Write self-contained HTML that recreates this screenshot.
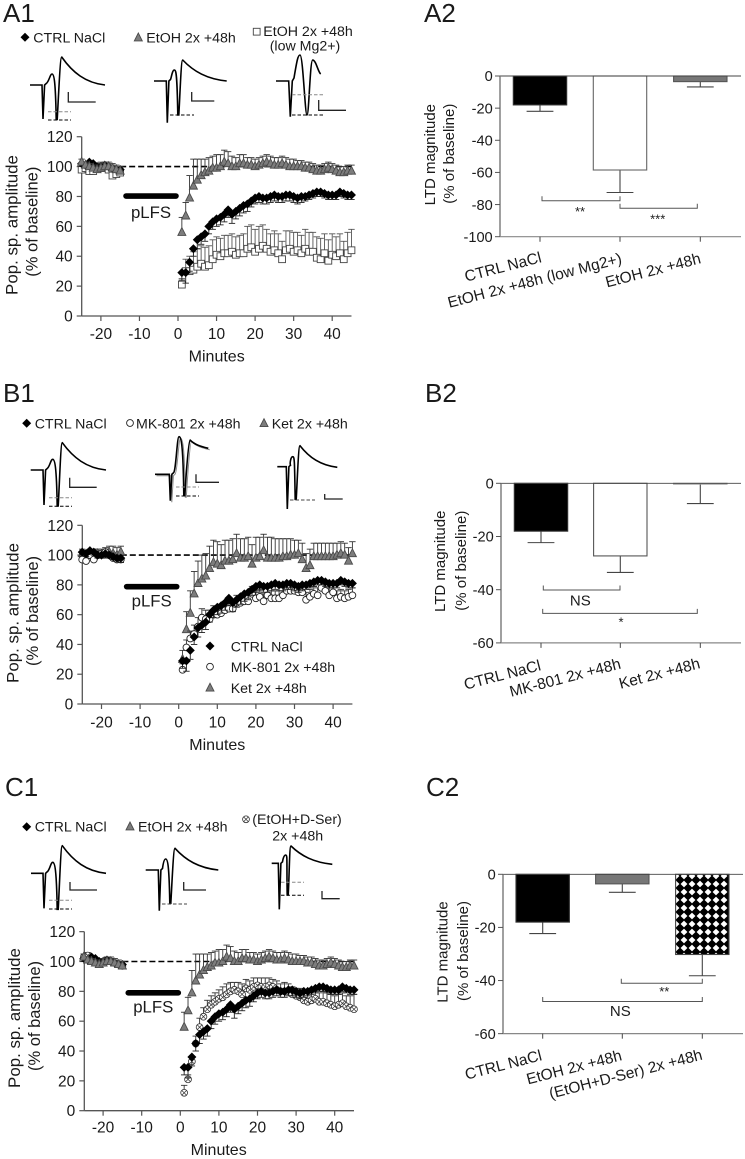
<!DOCTYPE html>
<html lang="en">
<head>
<meta charset="utf-8">
<title>LTD magnitude figure</title>
<style>
html,body{margin:0;padding:0;background:#fff}
svg{display:block;filter:blur(0.35px)}
text{font-family:"Liberation Sans",Arial,sans-serif;fill:#1a1a1a}
</style>
</head>
<body>
<svg id="fig" xmlns="http://www.w3.org/2000/svg" width="745" height="1159" viewBox="0 0 745 1159">
<defs>
<pattern id="hatch" patternUnits="userSpaceOnUse" width="8" height="8" x="0" y="0">
<rect width="8" height="8" fill="#000"/>
<polygon points="4,0.6 7.4,4 4,7.4 0.6,4" fill="#fff"/>
</pattern>
</defs>
<rect width="745" height="1159" fill="#fff"/>
<text x="3" y="22" font-size="26">A1</text>
<text x="424" y="22" font-size="26">A2</text>
<text x="3" y="402" font-size="26">B1</text>
<text x="425" y="402" font-size="26">B2</text>
<text x="5" y="796" font-size="26">C1</text>
<text x="426" y="796" font-size="26">C2</text>
</svg>
<script>
// ---- time-course data (minutes, % of baseline) ----
const baselineMinutes=[-25,-24,-23,-22,-21,-20,-19,-18,-17,-16,-15];
const postMinutes=[1,2,3,4,5,6,7,8,9,10,11,12,13,14,15,16,17,18,19,20,21,22,23,24,25,26,27,28,29,30,31,32,33,34,35,36,37,38,39,40,41,42,43,44,45];

const ctrlBase=[102,101,103,102,100,100,101,100,99,98,98];
const ctrlBaseErr=[2,2,2,2,2,2,2,2,2,2,3];
const ctrlPost=[29,29,36,45,51,53,55,60,63,65,66,68,71,68,70,72,74,75,77,79,80,79,79,80,81,80,80,81,81,80,79,80,80,81,82,83,83,82,81,81,81,83,82,81,81];
const ctrlPostErr=[5,7,6,5,6,5,5,5,5,5,5,5,5,6,5,5,5,5,4,4,4,4,4,4,4,4,4,4,4,4,4,4,3,3,3,3,3,3,3,3,3,3,3,3,3];

const etohBase=[103,101,100,99,98,99,100,100,99,98,97];
const etohBaseErr=[2,2,2,2,3,3,3,3,3,3,3];
const etohPost=[56,67,79,87,91,94,96,97,99,99,100,103,102,100,100,102,102,101,101,100,101,102,103,102,101,101,102,101,100,100,100,100,99,99,98,97,97,98,99,98,97,96,96,97,97];
const etohPostErr=[10,9,15,18,14,11,9,9,8,9,8,8,8,7,6,6,6,5,5,5,5,5,5,5,5,5,5,5,5,5,4,4,4,4,4,4,4,4,4,4,4,4,4,4,4];

const lowMgBase=[98,99,97,97,99,100,99,98,94,95,96];
const lowMgBaseErr=[3,3,2,3,3,3,3,3,3,3,3];
const lowMgPost=[21,30,30,31,33,35,33,34,38,41,40,42,42,43,41,42,42,45,46,43,45,47,45,43,44,42,38,44,45,43,44,42,45,43,43,39,38,42,37,41,40,42,38,42,44];
const lowMgPostErr=[4,8,10,12,12,12,13,13,13,12,12,12,12,12,12,12,13,15,15,15,15,14,13,12,13,13,12,13,12,13,12,12,13,13,13,14,14,13,14,14,13,13,12,14,14];

const mkBase=[97,96,100,97,100,101,102,100,98,97,97];
const mkBaseErr=[2,2,2,2,2,2,2,2,2,2,3];
const mkPost=[23,38,44,47,52,58,57,57,60,60,61,63,64,64,68,68,69,69,74,71,72,69,73,71,71,71,73,76,76,76,75,75,70,72,74,73,78,76,73,75,71,72,71,72,73];
const mkPostErr=[4,5,5,6,6,6,6,6,6,6,6,6,5,5,5,5,5,5,5,5,5,5,5,5,5,5,5,5,5,5,5,5,5,5,5,5,5,5,5,5,5,5,5,5,5];

const ketBase=[101,100,101,101,101,100,101,102,101,100,102];
const ketBaseErr=[3,3,3,3,3,4,4,4,5,5,4];
const ketPost=[30,50,61,74,81,84,86,91,95,94,93,96,96,97,101,98,98,99,94,98,99,103,98,98,98,98,99,99,100,100,101,97,91,93,99,99,99,99,99,99,100,101,100,96,101];
const ketPostErr=[6,12,15,15,15,16,15,15,15,15,14,14,14,14,13,13,13,13,13,14,13,11,14,14,13,13,12,12,11,10,9,11,10,11,9,9,9,9,9,9,8,8,8,9,8];

const dserBase=[103,104,101,100,99,100,101,100,99,98,97];
const dserBaseErr=[2,2,2,2,2,2,2,2,2,2,3];
const dserPost=[12,21,33,45,56,63,68,71,73,75,76,78,80,81,80,78,82,81,83,84,83,83,84,83,81,80,80,80,78,77,76,74,73,74,75,73,73,72,71,70,71,72,70,69,68];
const dserPostErr=[5,3,3,5,6,6,6,6,6,6,7,7,6,5,6,7,6,6,6,5,6,6,5,5,6,5,6,5,5,5,6,6,6,6,6,6,7,7,7,7,7,7,7,8,10];

const lineTicksY=[0,20,40,60,80,100,120];
const lineTicksX=[-20,-10,0,10,20,30,40];

// ---- bar chart data (LTD magnitude, % of baseline) ----
const a2Labels=["CTRL NaCl","EtOH 2x +48h (low Mg2+)","EtOH 2x +48h"];
const a2Means=[-18,-58.5,-3.5];
const a2Sems=[4,14,3.3];
const a2Ticks=[0,-20,-40,-60,-80,-100];

const b2Labels=["CTRL NaCl","MK-801 2x +48h","Ket 2x +48h"];
const b2Means=[-18,-27.3,-0.3];
const b2Sems=[4.3,6.2,7.3];
const b2Ticks=[0,-20,-40,-60];

const c2Labels=["CTRL NaCl","EtOH 2x +48h","(EtOH+D-Ser) 2x +48h"];
const c2Means=[-18,-3.6,-30.2];
const c2Sems=[4.3,3.2,8];
const c2Ticks=[0,-20,-40,-60];

const svg=document.getElementById('fig');
const NS='http://www.w3.org/2000/svg';
function mk(tag,attrs,parent){
  const e=document.createElementNS(NS,tag);
  for(const k in attrs)e.setAttribute(k,attrs[k]);
  (parent||svg).appendChild(e);
  return e;
}
function label(str,x,y,size,extra,parent,name){
  const t=mk('text',Object.assign({x:x,y:y,'font-size':size},extra||{}),parent);
  t.textContent=str;
  
  
  return t;
}
function line(x1,y1,x2,y2,stroke,w,parent,name,dash){
  const l=mk('line',{x1:x1,y1:y1,x2:x2,y2:y2,stroke:stroke,'stroke-width':w},parent);
  if(dash)l.setAttribute('stroke-dasharray',dash);
  
  
  return l;
}
function marker(kind,x,y,parent,name){
  const g=mk('g',{},parent);
  
  
  if(kind==='diamond'){
    mk('polygon',{points:`${x},${y-4.5} ${x+4.5},${y} ${x},${y+4.5} ${x-4.5},${y}`,fill:'#000'},g);
  }else if(kind==='triangle'){
    mk('polygon',{points:`${x},${y-4.8} ${x+4},${y+3.1} ${x-4},${y+3.1}`,fill:'#7d7d7d',stroke:'#4a4a4a','stroke-width':0.9},g);
  }else if(kind==='square'){
    mk('rect',{x:x-3.4,y:y-3.4,width:6.8,height:6.8,fill:'#fff',stroke:'#444','stroke-width':0.9},g);
  }else if(kind==='circle'){
    mk('circle',{cx:x,cy:y,r:3.4,fill:'#fff',stroke:'#222','stroke-width':0.9},g);
  }else{
    mk('circle',{cx:x,cy:y,r:3.4,fill:'#fff',stroke:'#333','stroke-width':0.8},g);
    mk('path',{d:`M${x-2.3},${y-2.3}L${x+2.3},${y+2.3}M${x+2.3},${y-2.3}L${x-2.3},${y+2.3}`,stroke:'#333','stroke-width':0.7},g);
  }
  return g;
}

function lineChart(cfg){
  const root=mk('g',{});
  
  
  const X=v=>cfg.x0+v*cfg.kx;
  const Y=v=>cfg.y0-v*cfg.ky;
  const yTop=Y(120);
  line(cfg.axisX,cfg.y0,cfg.axisX,yTop,'#555',1.3,root,'y-axis');
  line(cfg.axisX,cfg.y0,X(45),cfg.y0,'#555',1.3,root,'x-axis');
  lineTicksY.forEach(v=>{
    line(cfg.axisX-5,Y(v),cfg.axisX,Y(v),'#555',1.2,root,'y-tick');
    label(String(v),cfg.axisX-9,Y(v)+5.5,15.5,{'text-anchor':'end'},root,'y-tick-label');
  });
  lineTicksX.forEach(v=>{
    line(X(v),cfg.y0,X(v),cfg.y0+5,'#555',1.2,root,'x-tick');
    label(String(v),X(v),cfg.xLabelY,15.5,{'text-anchor':'middle'},root,'x-tick-label');
  });
  label('Minutes',cfg.titleX,cfg.titleY,16,{'text-anchor':'middle'},root,'x-axis-title');
  const yt=[cfg.yTitle1,cfg.yTitle2];
  label('Pop. sp. amplitude',yt[0][0],yt[0][1],16.9,{'text-anchor':'middle',transform:`rotate(-90 ${yt[0][0]} ${yt[0][1]})`},root,'y-axis-title');
  label('(% of baseline)',yt[1][0],yt[1][1],16.5,{'text-anchor':'middle',transform:`rotate(-90 ${yt[1][0]} ${yt[1][1]})`},root,'y-axis-subtitle');
  line(X(-15),Y(100),X(45),Y(100),'#000',1.6,root,'baseline-100-line','6,3');
  const bar=mk('line',{x1:X(-14)+2,x2:X(0)-2,y1:Y(cfg.barV),y2:Y(cfg.barV),stroke:'#000','stroke-width':5.6,'stroke-linecap':'round'},root);
  
  
  label('pLFS',X(-7),cfg.plfsY,16.8,{'text-anchor':'middle'},root,'plfs-label');
  cfg.series.forEach(s=>{
    const g=mk('g',{},root);
    
    
    const draw=(ts,vals,errs)=>ts.forEach((t,i)=>{
      const x=X(t),y1=Y(vals[i]),y2=Y(vals[i]+s.dir*errs[i]);
      line(x,y1,x,y2,s.err,0.9,g,'error-bar-'+s.key);
      line(x-3.2,y2,x+3.2,y2,s.err,0.9,g,'error-cap-'+s.key);
    });
    draw(baselineMinutes,s.base,s.baseErr);
    draw(postMinutes,s.post,s.postErr);
    baselineMinutes.forEach((t,i)=>marker(s.kind,X(t),Y(s.base[i]),g,'point-'+s.key));
    postMinutes.forEach((t,i)=>marker(s.kind,X(t),Y(s.post[i]),g,'point-'+s.key));
  });
}

const sCtrl={key:'ctrl-nacl',kind:'diamond',dir:-1,err:'#222',base:ctrlBase,baseErr:ctrlBaseErr,post:ctrlPost,postErr:ctrlPostErr};
const sEtoh={key:'etoh',kind:'triangle',dir:1,err:'#333',base:etohBase,baseErr:etohBaseErr,post:etohPost,postErr:etohPostErr};
const sLowMg={key:'etoh-low-mg',kind:'square',dir:1,err:'#555',base:lowMgBase,baseErr:lowMgBaseErr,post:lowMgPost,postErr:lowMgPostErr};
const sMk={key:'mk-801',kind:'circle',dir:1,err:'#333',base:mkBase,baseErr:mkBaseErr,post:mkPost,postErr:mkPostErr};
const sKet={key:'ket',kind:'triangle',dir:1,err:'#333',base:ketBase,baseErr:ketBaseErr,post:ketPost,postErr:ketPostErr};
const sDser={key:'etoh-d-ser',kind:'crossed',dir:1,err:'#333',base:dserBase,baseErr:dserBaseErr,post:dserPost,postErr:dserPostErr};

lineChart({name:'time-course-a1',x0:178,kx:3.855,y0:316,ky:1.494,axisX:81.7,xLabelY:339,titleX:216.7,titleY:361.7,
  yTitle1:[17.5,225],yTitle2:[37.5,221.7],barV:80.3,plfsY:218,series:[sLowMg,sCtrl,sEtoh]});
lineChart({name:'time-course-b1',x0:178.7,kx:3.86,y0:704,ky:1.489,axisX:82.3,xLabelY:727.3,titleX:217.3,titleY:750,
  yTitle1:[18.3,613],yTitle2:[38,611],barV:78.8,plfsY:606.7,series:[sKet,sMk,sCtrl]});
lineChart({name:'time-course-c1',x0:180.3,kx:3.86,y0:1110.7,ky:1.492,axisX:84.3,xLabelY:1132.7,titleX:218.7,titleY:1155,
  yTitle1:[20,1018],yTitle2:[40,1016],barV:79,plfsY:1012.7,series:[sDser,sCtrl,sEtoh]});

function barChart(cfg){
  const root=mk('g',{});
  
  
  const Y=v=>cfg.y0+(-v)*cfg.ky;
  const bot=Y(cfg.ticks[cfg.ticks.length-1]);
  cfg.means.forEach((m,i)=>{
    const x=cfg.cats[i],st=cfg.styles[i];
    line(x,Y(m),x,Y(m-cfg.sems[i]),'#444',1.1,root,'bar-error-line');
    line(x-13.4,Y(m-cfg.sems[i]),x+13.4,Y(m-cfg.sems[i]),'#444',1.1,root,'bar-error-cap');
    const r=mk('rect',{x:x-26.7,y:Y(0),width:53.4,height:Y(m)-Y(0),fill:st[0],stroke:st[1],'stroke-width':1.1},root);
    
    
  });
  line(cfg.axisX,Y(0),cfg.right,Y(0),'#444',0.9,root,'zero-line');
  line(cfg.axisX,Y(0),cfg.axisX,bot,'#777',1.4,root,'y-axis');
  line(cfg.axisX,bot,cfg.right,bot,'#888',1.2,root,'x-axis');
  cfg.ticks.forEach(v=>{
    line(cfg.axisX-5,Y(v),cfg.axisX,Y(v),'#555',1,root,'y-tick');
    label(String(v),cfg.axisX-7.3,Y(v)+5.2,14.6,{'text-anchor':'end'},root,'y-tick-label');
  });
  cfg.labels.forEach((t,i)=>{
    line(cfg.cats[i],bot,cfg.cats[i],bot+5,'#444',1,root,'x-tick');
    const a=cfg.labelEnds[i];
    label(t,a[0],a[1],15.5,{'text-anchor':'end',transform:`rotate(-14.5 ${a[0]} ${a[1]})`},root,'category-label');
  });
  const a=cfg.yTitle1,b=cfg.yTitle2;
  label('LTD magnitude',a[0],a[1],15,{'text-anchor':'middle',transform:`rotate(-90 ${a[0]} ${a[1]})`},root,'y-axis-title');
  label('(% of baseline)',b[0],b[1],15,{'text-anchor':'middle',transform:`rotate(-90 ${b[0]} ${b[1]})`},root,'y-axis-subtitle');
  cfg.brackets.forEach(s=>{
    const y=Y(s.v);
    const d=`M${s.x1},${y-4.5}V${y}H${s.x2}V${y-4.5}`;
    const p=mk('path',{d:d,fill:'none',stroke:'#555','stroke-width':1},root);
    
    
    label(s.t,s.tx,s.ty,s.t==='NS'?15:13,{'text-anchor':'middle'},root,'significance-label');
  });
}

barChart({name:'bar-chart-a2',axisX:500,right:741,y0:76,ky:1.607,ticks:a2Ticks,means:a2Means,sems:a2Sems,labels:a2Labels,
  cats:[540,620,700.3],styles:[['#000','#333'],['#fff','#666'],['#777','#555']],
  labelEnds:[[542.3,262],[622.7,263],[701.7,263]],yTitle1:[435,154.7],yTitle2:[454,153.7],
  brackets:[{v:-77.6,x1:542,x2:620,t:'**',tx:580,ty:215.8},{v:-82.3,x1:620,x2:697.3,t:'***',tx:657.7,ty:223.5}]});
barChart({name:'bar-chart-b2',axisX:501,right:741,y0:483.3,ky:2.66,ticks:b2Ticks,means:b2Means,sems:b2Sems,labels:b2Labels,
  cats:[541,620.3,700.3],styles:[['#000','#333'],['#fff','#555'],['#fff','#999']],
  labelEnds:[[541.7,670],[621.7,668.3],[701,668]],yTitle1:[445,561.3],yTitle2:[466,560.7],
  brackets:[{v:-40.1,x1:543.3,x2:620,t:'NS',tx:580.3,ty:605.3},{v:-48.9,x1:542.7,x2:697.3,t:'*',tx:621,ty:626.5}]});
barChart({name:'bar-chart-c2',axisX:503,right:743,y0:874.3,ky:2.656,ticks:c2Ticks,means:c2Means,sems:c2Sems,labels:c2Labels,
  cats:[542.7,622.3,702.3],styles:[['#000','#333'],['#777','#555'],['url(#hatch)','#444']],
  labelEnds:[[542.7,1060],[622.7,1060],[703.3,1059.3]],yTitle1:[447.7,952],yTitle2:[468,951],
  brackets:[{v:-41,x1:621.3,x2:702.3,t:'**',tx:664.3,ty:996.2},{v:-47.9,x1:542.7,x2:702.3,t:'NS',tx:620.3,ty:1016}]});

// ---- legends ----
function legendEntry(kind,mx,my,str,tx,ty,name){
  marker(kind,mx,my,svg,'legend-marker-'+name);
  label(str,tx,ty,14.2,{},svg,'legend-label-'+name);
}
legendEntry('diamond',25,37.3,'CTRL NaCl',33.3,42.5,'a1-ctrl');
legendEntry('triangle',138.3,37.8,'EtOH 2x +48h',146.3,42.5,'a1-etoh');
legendEntry('square',256.7,31.7,'EtOH 2x +48h',263.3,36,'a1-low-mg');
label('(low Mg2+)',305,50.7,14.2,{'text-anchor':'middle'},svg,'legend-label-a1-low-mg-2');
legendEntry('diamond',26.7,423.3,'CTRL NaCl',34.7,428.7,'b1-ctrl');
legendEntry('circle',130,423,'MK-801 2x +48h',136,428.7,'b1-mk');
legendEntry('triangle',264,423.5,'Ket 2x +48h',271.7,428.7,'b1-ket');
legendEntry('diamond',210,646,'CTRL NaCl',230.7,651.5,'b1-inner-ctrl');
legendEntry('circle',210,666.7,'MK-801 2x +48h',230.7,672,'b1-inner-mk');
legendEntry('triangle',210,688,'Ket 2x +48h',230.7,693,'b1-inner-ket');
legendEntry('diamond',26.7,826.7,'CTRL NaCl',34.7,831.7,'c1-ctrl');
legendEntry('triangle',130,826.8,'EtOH 2x +48h',138,831.7,'c1-etoh');
legendEntry('crossed',246,819.3,'(EtOH+D-Ser)',252.3,824,'c1-dser');
label('2x +48h',297.7,840.7,14.2,{'text-anchor':'middle'},svg,'legend-label-c1-dser-2');

// ---- inset example traces ----
function trace(name,o,b,sx,sy,bx,by,kx,ky,px,py,ex,ey,gray){
  const d=`M${o},${b}L${sx-1},${b}L${sx},${sy}L${sx+1.6},${b}L${sx+3.2},${b-1.5}C${bx-3},${b-3} ${bx-2},${by} ${bx},${by}C${bx+2},${by} ${kx-1.2},${by+6} ${kx-0.5},${ky}L${kx+0.5},${ky}C${kx+1.6},${ky-18} ${px-1.6},${py} ${px},${py}C${px+(ex-px)*.25},${py+(ey-py)*.55} ${px+(ex-px)*.55},${ey-2} ${ex},${ey}`;
  if(gray){
    const g2=mk('path',{d:d,fill:'none',stroke:'#888','stroke-width':1,transform:'translate(1.5,1.5)'});
    
    
  }
  const p=mk('path',{d:d,fill:'none',stroke:'#000','stroke-width':1.6});
  
  
}
function scaleBar(name,x,y1,y2,x2){
  const p=mk('path',{d:`M${x},${y1}V${y2}H${x2}`,fill:'none',stroke:'#222','stroke-width':1.3});
  
  
}
function dash(name,x1,x2,y,c){
  line(x1,y,x2,y,c,1,svg,name,'3.5,2');
}
trace('trace-a1-ctrl',30,85,43,119,52,74,56.7,119.5,61.7,57,105,85);
scaleBar('scale-bar-a1-ctrl',68.3,92,102,95.7);
dash('amplitude-dash-a1-ctrl',48,71,111.7,'#888');dash('amplitude-dash-a1-ctrl',48,71,120,'#000');
trace('trace-a1-etoh',154,81,167.3,122.7,174.3,70,178.3,115,182.7,60,226.7,81);
scaleBar('scale-bar-a1-etoh',191.7,92,101,214.3);
dash('amplitude-dash-a1-etoh',170,194,115,'#000');
const a1c=mk('path',{d:'M276,81L288.7,81L290.3,116.7L292.3,81L294,78C297,60 298,55 300,55C303,55 305,115 307,115C309,115 310,60 312.7,60C316,60 318,72 320.7,74',fill:'none',stroke:'#000','stroke-width':1.6});


scaleBar('scale-bar-a1-low-mg',318.7,100,110.3,346);
dash('amplitude-dash-a1-low-mg',292,324,94.7,'#888');dash('amplitude-dash-a1-low-mg',292,324,115,'#000');

trace('trace-b1-ctrl',30.7,470,44,505,52.7,459.3,57.7,506,62.3,442.7,106,470);
scaleBar('scale-bar-b1-ctrl',69.7,477.7,487.3,96.7);
dash('amplitude-dash-b1-ctrl',49,72,497.7,'#888');dash('amplitude-dash-b1-ctrl',49,72,506.3,'#000');
trace('trace-b1-mk',155,474.3,170.3,500.7,179,436.7,184.3,495.7,190,440,208.3,448.3,true);
scaleBar('scale-bar-b1-mk',196,474.3,482.3,219);
dash('amplitude-dash-b1-mk',176,199,487,'#888');dash('amplitude-dash-b1-mk',176,199,496,'#000');
trace('trace-b1-ket',277.3,466.7,287.3,509,292.7,456.7,295.7,499.3,300,445.7,337.3,467.3);
scaleBar('scale-bar-b1-ket',324.7,494,499,342.7);
dash('amplitude-dash-b1-ket',290,315,500,'#444');

trace('trace-c1-ctrl',31,873.3,44,908.3,52.7,862.3,57.7,909.3,62.3,845.7,106,873.3);
scaleBar('scale-bar-c1-ctrl',70,882,890,97);
dash('amplitude-dash-c1-ctrl',49,72,900.3,'#888');dash('amplitude-dash-c1-ctrl',49,72,909,'#000');
trace('trace-c1-etoh',145.7,870,159.3,910.7,165.7,859,170.3,903.3,175,848.3,218.3,870);
scaleBar('scale-bar-c1-etoh',183.7,882,890,206);
dash('amplitude-dash-c1-etoh',162,187,904,'#444');
trace('trace-c1-dser',271.7,863.3,279.3,909.3,285.7,855,287.7,895,291,846,332.3,864.3);
scaleBar('scale-bar-c1-dser',322,891,898.7,339.7);
dash('amplitude-dash-c1-dser',281,304,882.3,'#888');dash('amplitude-dash-c1-dser',281,304,895.3,'#000');
</script>
</body>
</html>
